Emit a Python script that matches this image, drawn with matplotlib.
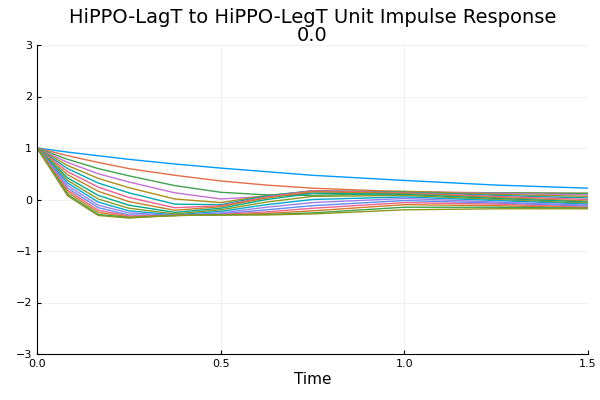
import matplotlib
matplotlib.use("Agg")
import matplotlib.pyplot as plt

times = [0, 1/12, 2/12, 3/12, 0.375, 0.5, 0.625, 0.75, 1.0, 1.25, 1.5]
series = [
    [1, .92, .85, .78, .69, .61, .54, .47, .37, .28, .22],
    [1, .85, .72, .60, .47, .36, .28, .22, .15, .13, .12],
    [1, .78, .60, .46, .27, .14, .09, .08, .12, .13, .12],
    [1, .72, .50, .34, .13, .01, .06, .12, .15, .12, .09],
    [1, .66, .41, .23, .01, -.06, .08, .16, .16, .10, .06],
    [1, .60, .32, .13, -.09, -.10, .07, .17, .14, .08, .03],
    [1, .54, .24, .04, -.16, -.12, .05, .17, .13, .06, .00],
    [1, .48, .16, -.04, -.21, -.14, .03, .15, .12, .04, -.03],
    [1, .42, .08, -.11, -.25, -.17, .00, .12, .10, .02, -.05],
    [1, .37, .01, -.17, -.28, -.20, -.05, .06, .08, .00, -.07],
    [1, .32, -.05, -.22, -.30, -.23, -.10, .00, .05, -.02, -.09],
    [1, .27, -.11, -.26, -.31, -.26, -.15, -.06, .02, -.05, -.11],
    [1, .22, -.16, -.30, -.31, -.28, -.20, -.12, -.02, -.07, -.13],
    [1, .18, -.21, -.32, -.31, -.29, -.24, -.17, -.06, -.09, -.15],
    [1, .14, -.25, -.34, -.31, -.30, -.27, -.22, -.10, -.12, -.16],
    [1, .10, -.29, -.35, -.31, -.30, -.29, -.26, -.15, -.15, -.17],
    [1, .07, -.31, -.36, -.31, -.30, -.30, -.28, -.20, -.18, -.18],
]
colors = ["#009AFA","#E36F47","#3EA44E","#C371D2","#AC8E18","#00AAAE","#ED5E93",
          "#C68225","#00A98D","#8E971E","#00A9CD","#9B7FE9","#618DF6","#F1658A",
          "#D67B28","#3EA44E","#8E971E"]

fig = plt.figure(figsize=(6, 4), dpi=100)
ax = fig.add_axes([37/600, 1-354/400, 551/600, 309/400])
for s, c in zip(series, colors):
    ax.plot(times, s, color=c, lw=1)
ax.set_xlim(0, 1.5)
ax.set_ylim(-3, 3)
ax.set_xticks([0, 0.5, 1.0, 1.5])
ax.set_xticklabels(["0.0", "0.5", "1.0", "1.5"])
ax.set_yticks(range(-3, 4))
ax.set_yticklabels(["−3", "−2", "−1", "0", "1", "2", "3"])
ax.grid(True, color="#000000", alpha=0.08, lw=0.5)
for s in ["top", "right"]:
    ax.spines[s].set_visible(False)
ax.tick_params(labelsize=8, length=3, direction="in")
ax.set_xlabel("Time", fontsize=11, labelpad=2)
ax.set_title("HiPPO-LagT to HiPPO-LegT Unit Impulse Response\n0.0", fontsize=14, pad=2, linespacing=0.95)
fig.savefig("out.png")
